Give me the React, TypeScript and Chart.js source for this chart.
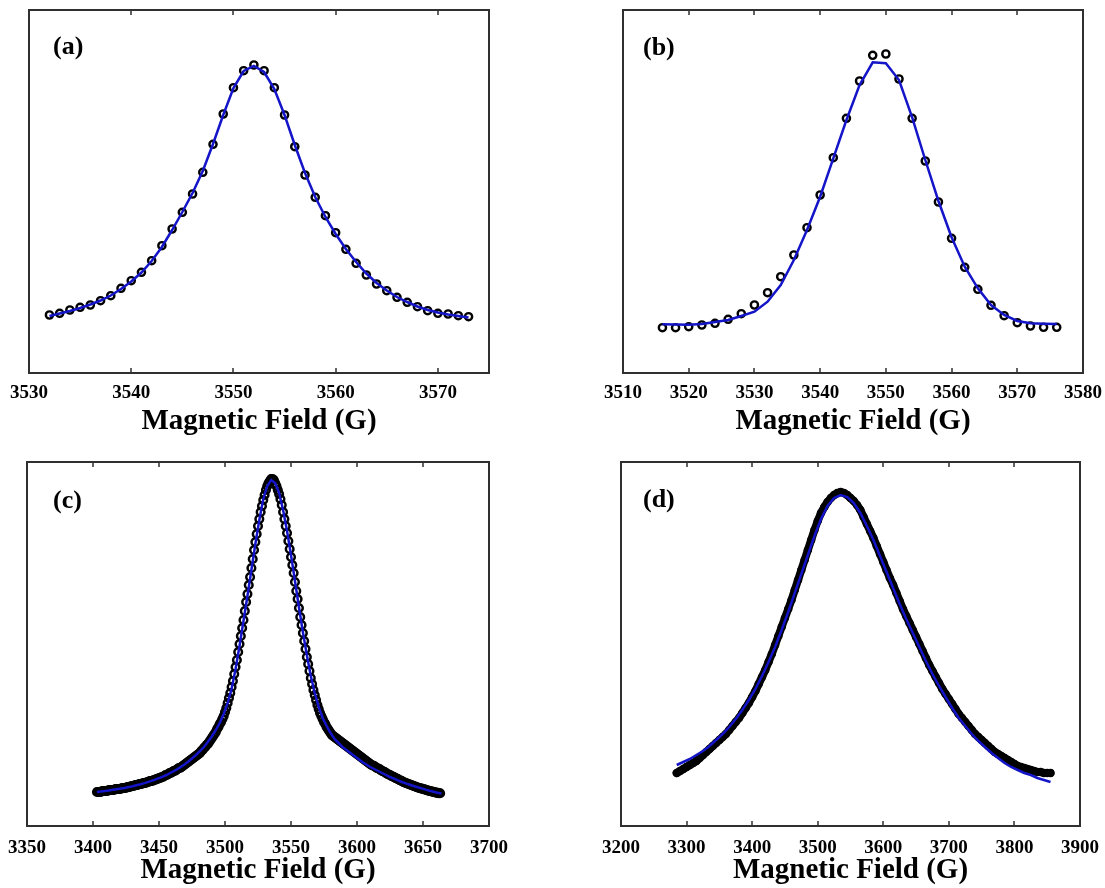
import React, { useEffect, useRef } from 'react';
import { Chart, registerables } from 'chart.js';

Chart.register(...registerables);

const SERIF = '"Liberation Serif", "Times New Roman", Times, serif';
const BLUE = '#1414c8';
const AXIS = '#303030';
const AXIS_TITLE = 'Magnetic Field (G)';

// ---------- Panel (a) ----------
const ticksA = [3530, 3540, 3550, 3560, 3570];
const fieldA = [
  3532, 3533, 3534, 3535, 3536, 3537, 3538, 3539, 3540, 3541,
  3542, 3543, 3544, 3545, 3546, 3547, 3548, 3549, 3550, 3551,
  3552, 3553, 3554, 3555, 3556, 3557, 3558, 3559, 3560, 3561,
  3562, 3563, 3564, 3565, 3566, 3567, 3568, 3569, 3570, 3571,
  3572, 3573,
];
const signalA = [
  58, 59.7, 63, 65.7, 68, 72.3, 77.3, 84.7, 92.3, 100.7,
  112.3, 127.3, 144, 160.7, 179, 200.7, 228.7, 259, 285.3, 302.3,
  308, 302.3, 285.3, 258, 226.3, 198, 175.7, 157.3, 140.3, 123.7,
  109.7, 98, 89, 82.3, 75.7, 70.7, 66.3, 62.3, 59.7, 59,
  57.3, 56.3,
];
const fitA = [
  57, 59.5, 62, 65, 68.5, 72.5, 77.5, 84, 91.5, 100.5,
  112, 126, 143, 161, 180, 202, 229, 258, 285, 302,
  307, 301, 284, 258, 228, 200, 176, 156, 139, 124,
  111, 99.5, 90, 82.5, 76, 71, 66.5, 63, 60.5, 58.5,
  57, 55.5,
];

// ---------- Panel (b) ----------
const ticksB = [3510, 3520, 3530, 3540, 3550, 3560, 3570, 3580];
const fieldB = [
  3516, 3518, 3520, 3522, 3524, 3526, 3528, 3530, 3532, 3534,
  3536, 3538, 3540, 3542, 3544, 3546, 3548, 3550, 3552, 3554,
  3556, 3558, 3560, 3562, 3564, 3566, 3568, 3570, 3572, 3574,
  3576,
];
const signalB = [
  45.3, 45.3, 46.3, 48, 49.7, 53.7, 59.3, 68, 80.3, 96.3,
  118, 145.3, 178, 215.3, 254.7, 292, 317.7, 319, 294, 254.7,
  212, 171, 134.7, 105.7, 83.7, 67.7, 57.3, 50.3, 47, 45.7,
  45.7,
];
const fitB = [
  48.7, 48.5, 48.3, 49, 51, 53, 57, 61.3, 71.3, 88,
  113, 143, 176.3, 214.7, 253, 288, 310.7, 309.7, 293, 255.7,
  213, 172, 135.7, 106.3, 84.7, 68, 58, 52, 49.7, 49.3,
  49,
];

// ---------- Panel (c) ----------
const ticksC = [3350, 3400, 3450, 3500, 3550, 3600, 3650, 3700];
const fieldC = [
  3403, 3404, 3405, 3406, 3407, 3408, 3409, 3410, 3411, 3412,
  3413, 3414, 3415, 3416, 3417, 3418, 3419, 3420, 3421, 3422,
  3423, 3424, 3425, 3426, 3427, 3428, 3429, 3430, 3431, 3432,
  3433, 3434, 3435, 3436, 3437, 3438, 3439, 3440, 3441, 3442,
  3443, 3444, 3445, 3446, 3447, 3448, 3449, 3450, 3451, 3452,
  3453, 3454, 3455, 3456, 3457, 3458, 3459, 3460, 3461, 3462,
  3463, 3464, 3465, 3466, 3467, 3468, 3469, 3470, 3471, 3472,
  3473, 3474, 3475, 3476, 3477, 3478, 3479, 3480, 3481, 3482,
  3483, 3484, 3485, 3486, 3487, 3488, 3489, 3490, 3491, 3492,
  3493, 3494, 3495, 3496, 3497, 3498, 3499, 3500, 3501, 3502,
  3503, 3504, 3505, 3506, 3507, 3508, 3509, 3510, 3511, 3512,
  3513, 3514, 3515, 3516, 3517, 3518, 3519, 3520, 3521, 3522,
  3523, 3524, 3525, 3526, 3527, 3528, 3529, 3530, 3531, 3532,
  3533, 3534, 3535, 3536, 3537, 3538, 3539, 3540, 3541, 3542,
  3543, 3544, 3545, 3546, 3547, 3548, 3549, 3550, 3551, 3552,
  3553, 3554, 3555, 3556, 3557, 3558, 3559, 3560, 3561, 3562,
  3563, 3564, 3565, 3566, 3567, 3568, 3569, 3570, 3571, 3572,
  3573, 3574, 3575, 3576, 3577, 3578, 3579, 3580, 3581, 3582,
  3583, 3584, 3585, 3586, 3587, 3588, 3589, 3590, 3591, 3592,
  3593, 3594, 3595, 3596, 3597, 3598, 3599, 3600, 3601, 3602,
  3603, 3604, 3605, 3606, 3607, 3608, 3609, 3610, 3611, 3612,
  3613, 3614, 3615, 3616, 3617, 3618, 3619, 3620, 3621, 3622,
  3623, 3624, 3625, 3626, 3627, 3628, 3629, 3630, 3631, 3632,
  3633, 3634, 3635, 3636, 3637, 3638, 3639, 3640, 3641, 3642,
  3643, 3644, 3645, 3646, 3647, 3648, 3649, 3650, 3651, 3652,
  3653, 3654, 3655, 3656, 3657, 3658, 3659, 3660, 3661, 3662,
  3663,
];
const signalC = [
  34, 34, 34, 34, 35, 35, 35, 35, 35, 36,
  36, 36, 36, 36, 37, 37, 37, 37, 37, 38,
  38, 38, 38, 39, 39, 39, 40, 40, 40, 41,
  41, 41, 42, 42, 42, 43, 43, 43, 44, 44,
  45, 45, 45, 46, 46, 47, 47, 48, 48, 49,
  49, 50, 51, 51, 52, 53, 53, 54, 55, 55,
  56, 57, 58, 58, 59, 60, 61, 62, 63, 64,
  65, 66, 67, 68, 69, 70, 71, 72, 73, 75,
  76, 78, 79, 81, 82, 84, 86, 88, 90, 92,
  94, 97, 99, 102, 104, 107, 110, 114, 118, 123,
  128, 133, 139, 145, 152, 159, 166, 174, 182, 190,
  198, 206, 215, 224, 232, 241, 249, 258, 267, 276,
  284, 292, 300, 307, 314, 320, 326, 331, 336, 340,
  343, 345, 347, 347, 346, 343, 340, 336, 332, 327,
  321, 314, 307, 300, 293, 285, 277, 269, 261, 253,
  244, 235, 227, 218, 209, 201, 193, 185, 177, 169,
  162, 155, 148, 142, 136, 131, 126, 121, 117, 113,
  110, 107, 104, 102, 99, 97, 95, 93, 91, 90,
  89, 88, 87, 86, 85, 84, 83, 82, 81, 80,
  79, 78, 77, 76, 75, 74, 73, 72, 71, 70,
  69, 68, 67, 66, 65, 64, 63, 62, 61, 60.5,
  60, 59, 58, 57.5, 57, 56, 55, 54.5, 54, 53,
  52, 51.5, 51, 50, 49.5, 49, 48, 47.5, 47, 46,
  45.5, 45, 44, 43.5, 43, 42.5, 42, 41.5, 41, 40.5,
  40, 39.5, 39, 38.5, 38, 37.8, 37.4, 37, 36.6, 36.2,
  35.8, 35.4, 35, 34.7, 34.4, 34, 33.7, 33.4, 33.1, 32.9,
  32.7,
];
const fitFieldC = [
  3403, 3406, 3409, 3412, 3415, 3418, 3421, 3424, 3427, 3430,
  3433, 3436, 3439, 3442, 3445, 3448, 3451, 3454, 3457, 3460,
  3463, 3466, 3469, 3472, 3475, 3478, 3481, 3484, 3487, 3490,
  3493, 3496, 3499, 3502, 3505, 3508, 3511, 3514, 3517, 3520,
  3523, 3526, 3529, 3532, 3535, 3538, 3541, 3544, 3547, 3550,
  3553, 3556, 3559, 3562, 3565, 3568, 3571, 3574, 3577, 3580,
  3583, 3586, 3589, 3592, 3595, 3598, 3601, 3604, 3607, 3610,
  3613, 3616, 3619, 3622, 3625, 3628, 3631, 3634, 3637, 3640,
  3643, 3646, 3649, 3652, 3655, 3658, 3661, 3664,
];
const fitC = [
  34, 34.5, 35, 35.6, 36.2, 36.8, 37.4, 38.1, 38.9, 39.8,
  40.8, 41.8, 42.9, 44.1, 45.4, 46.8, 48.3, 50, 51.9, 54,
  56.2, 58.6, 61.3, 64.3, 67.5, 71, 74.8, 79, 84, 89.5,
  96, 103, 112, 123, 137, 157, 180, 205, 230, 256,
  282, 306, 327, 340, 346, 343, 333, 316, 295, 271,
  245, 219, 194, 171, 150, 133, 119, 108, 100, 93,
  87, 83, 79, 76, 73, 70, 67, 64, 61.5, 59,
  57, 55, 53, 51, 49, 47.3, 45.7, 44, 42.6, 41.3,
  40, 38.8, 37.6, 36.4, 35.3, 34.3, 33.3, 32.5,
];

// ---------- Panel (d) ----------
const ticksD = [3200, 3300, 3400, 3500, 3600, 3700, 3800, 3900];
const fieldD = [
  3285, 3290, 3295, 3300, 3305, 3310, 3315, 3320, 3325, 3330,
  3335, 3340, 3345, 3350, 3355, 3360, 3365, 3370, 3375, 3380,
  3385, 3390, 3395, 3400, 3405, 3410, 3415, 3420, 3425, 3430,
  3435, 3440, 3445, 3450, 3455, 3460, 3465, 3470, 3475, 3480,
  3485, 3490, 3495, 3500, 3505, 3510, 3515, 3520, 3525, 3530,
  3535, 3540, 3545, 3550, 3555, 3560, 3565, 3570, 3575, 3580,
  3585, 3590, 3595, 3600, 3605, 3610, 3615, 3620, 3625, 3630,
  3635, 3640, 3645, 3650, 3655, 3660, 3665, 3670, 3675, 3680,
  3685, 3690, 3695, 3700, 3705, 3710, 3715, 3720, 3725, 3730,
  3735, 3740, 3745, 3750, 3755, 3760, 3765, 3770, 3775, 3780,
  3785, 3790, 3795, 3800, 3805, 3810, 3815, 3820, 3825, 3830,
  3835, 3840, 3845, 3850, 3855,
];
const signalD = [
  53, 55, 57, 59, 61, 63, 65, 68, 71, 74,
  77, 80, 83, 86, 89, 92, 96, 100, 104, 108,
  113, 118, 123, 129, 135, 142, 149, 156, 164, 172,
  181, 190, 199, 208, 217, 226, 236, 246, 256, 266,
  276, 286, 296, 305, 313, 319, 324, 328, 331, 333,
  334, 333, 331, 328, 325, 321, 316, 309, 302, 295,
  288, 280, 272, 264, 256, 248, 241, 233, 225, 217,
  210, 203, 196, 189, 182, 175, 168, 161, 155, 149,
  143, 137, 132, 127, 122, 117, 112, 108, 104, 100,
  96, 92, 89, 86, 83, 80, 77, 74, 72, 70,
  68, 66, 64, 62, 60, 59, 58, 57, 56, 55,
  54, 54, 53, 53, 53,
];
const fitFieldD = [
  3285, 3295, 3305, 3315, 3325, 3335, 3345, 3355, 3365, 3375,
  3385, 3395, 3405, 3415, 3425, 3435, 3445, 3455, 3465, 3475,
  3485, 3495, 3505, 3515, 3525, 3535, 3545, 3555, 3565, 3575,
  3585, 3595, 3605, 3615, 3625, 3635, 3645, 3655, 3665, 3675,
  3685, 3695, 3705, 3715, 3725, 3735, 3745, 3755, 3765, 3775,
  3785, 3795, 3805, 3815, 3825, 3835, 3845, 3855,
];
const fitD = [
  61, 64, 67, 71, 75, 80, 86, 92, 99, 107,
  116, 126, 137, 150, 164, 179, 196, 214, 233, 252,
  271, 290, 307, 320, 328, 331, 329, 323, 313, 300,
  286, 270, 254, 238, 222, 207, 193, 179, 165, 152,
  140, 129, 118, 108, 100, 92, 85, 79, 73, 68,
  63, 59, 56, 53, 51, 48, 46, 44,
];

type PanelSpec = {
  label: string;
  left: number;
  top: number;
  w: number;
  h: number;
  pad: { left: number; top: number; right: number };
  axisH: number;
  tickGap: number;
  titlePad: number;
  xMin: number;
  xMax: number;
  yMax: number;
  ticks: number[];
  dataX: number[];
  dataY: number[];
  fitX: number[];
  fitY: number[];
  r: number;
  bw: number;
  dataLine: number;
  fitWidth: number;
  labelDx: number;
  labelDy: number;
};

const panelDecor = {
  id: 'panelDecor',
  afterDraw(chart: any, _args: any, opts: any) {
    const { ctx, chartArea } = chart;
    const xs = chart.scales.x;
    ctx.save();
    ctx.strokeStyle = AXIS;
    ctx.lineWidth = 1.5;
    ctx.beginPath();
    xs.ticks.forEach((t: any) => {
      if (t.value <= xs.min || t.value >= xs.max) return;
      const px = Math.round(xs.getPixelForValue(t.value));
      ctx.moveTo(px, chartArea.bottom);
      ctx.lineTo(px, chartArea.bottom - 5);
      ctx.moveTo(px, chartArea.top);
      ctx.lineTo(px, chartArea.top + 5);
    });
    ctx.stroke();
    ctx.font = `bold 26px ${SERIF}`;
    ctx.fillStyle = '#000';
    ctx.textAlign = 'left';
    ctx.textBaseline = 'middle';
    ctx.fillText(opts.text, chartArea.left + opts.dx, chartArea.top + opts.dy);
    ctx.restore();
  },
};

const panels: PanelSpec[] = [
  {
    label: '(a)', left: 0, top: 0, w: 552, h: 444,
    pad: { left: 29, top: 10, right: 63 }, axisH: 71, tickGap: 9, titlePad: 5,
    xMin: 3530, xMax: 3575, yMax: 363, ticks: ticksA,
    dataX: fieldA, dataY: signalA, fitX: fieldA, fitY: fitA,
    r: 3.6, bw: 2.4, dataLine: 0, fitWidth: 2.5, labelDx: 24, labelDy: 37,
  },
  {
    label: '(b)', left: 552, top: 0, w: 553, h: 444,
    pad: { left: 71, top: 10, right: 22 }, axisH: 71, tickGap: 9, titlePad: 5,
    xMin: 3510, xMax: 3580, yMax: 363, ticks: ticksB,
    dataX: fieldB, dataY: signalB, fitX: fieldB, fitY: fitB,
    r: 3.6, bw: 2.4, dataLine: 0, fitWidth: 2.5, labelDx: 20, labelDy: 38,
  },
  {
    label: '(c)', left: 0, top: 444, w: 552, h: 444,
    pad: { left: 27, top: 18, right: 63 }, axisH: 62, tickGap: 11, titlePad: 0,
    xMin: 3350, xMax: 3700, yMax: 364, ticks: ticksC,
    dataX: fieldC, dataY: signalC, fitX: fitFieldC, fitY: fitC,
    r: 3.8, bw: 2.5, dataLine: 0, fitWidth: 2.5, labelDx: 26, labelDy: 39,
  },
  {
    label: '(d)', left: 552, top: 444, w: 553, h: 444,
    pad: { left: 69, top: 18, right: 25 }, axisH: 62, tickGap: 11, titlePad: 0,
    xMin: 3200, xMax: 3900, yMax: 364, ticks: ticksD,
    dataX: fieldD, dataY: signalD, fitX: fitFieldD, fitY: fitD,
    r: 3, bw: 2.5, dataLine: 8, fitWidth: 2.5, labelDx: 22, labelDy: 38,
  },
];

function makeConfig(p: PanelSpec): any {
  const frame = { display: true, color: AXIS, width: 2 };
  return {
    type: 'scatter',
    data: {
      datasets: [
        {
          label: 'Fit',
          data: p.fitX.map((x, i) => ({ x, y: p.fitY[i] })),
          showLine: true,
          borderColor: BLUE,
          borderWidth: p.fitWidth,
          pointRadius: 0,
          fill: false,
          order: 0,
        },
        {
          label: 'Data',
          data: p.dataX.map((x, i) => ({ x, y: p.dataY[i] })),
          showLine: p.dataLine > 0,
          borderColor: '#000',
          borderWidth: p.dataLine,
          borderCapStyle: 'round',
          borderJoinStyle: 'round',
          pointStyle: 'circle',
          pointRadius: p.r,
          pointBorderWidth: p.bw,
          pointBorderColor: '#000',
          pointBackgroundColor: 'rgba(0,0,0,0)',
          order: 1,
        },
      ],
    },
    options: {
      responsive: false,
      animation: false,
      events: [],
      layout: {
        autoPadding: false,
        padding: { left: p.pad.left, top: p.pad.top, right: p.pad.right, bottom: 0 },
      },
      plugins: {
        legend: { display: false },
        tooltip: { enabled: false },
        panelDecor: { text: p.label, dx: p.labelDx, dy: p.labelDy },
      },
      scales: {
        x: {
          type: 'linear', axis: 'x', position: 'bottom',
          min: p.xMin, max: p.xMax,
          grid: { display: false, drawTicks: true, tickLength: p.tickGap },
          border: frame,
          afterBuildTicks: (s: any) => { s.ticks = p.ticks.map((v) => ({ value: v })); },
          afterFit: (s: any) => { s.height = p.axisH; },
          ticks: {
            autoSkip: false, maxRotation: 0, minRotation: 0,
            padding: 0, color: '#000',
            font: { family: SERIF, size: 19, weight: 'bold' },
            callback: (v: any) => String(v),
          },
          title: {
            display: true, text: AXIS_TITLE, color: '#000',
            font: { family: SERIF, size: 29, weight: 'bold' },
            padding: { top: 0, bottom: p.titlePad },
          },
        },
        x2: {
          type: 'linear', axis: 'x', position: 'top',
          min: p.xMin, max: p.xMax,
          grid: { display: false, drawTicks: false }, ticks: { display: false },
          border: frame,
          afterFit: (s: any) => { s.height = 0; },
        },
        y: {
          type: 'linear', axis: 'y', position: 'left',
          min: 0, max: p.yMax,
          grid: { display: false, drawTicks: false }, ticks: { display: false },
          border: frame,
          afterFit: (s: any) => { s.width = 0; },
        },
        y2: {
          type: 'linear', axis: 'y', position: 'right',
          min: 0, max: p.yMax,
          grid: { display: false, drawTicks: false }, ticks: { display: false },
          border: frame,
          afterFit: (s: any) => { s.width = 0; },
        },
      },
    },
    plugins: [panelDecor],
  };
}

function Panel({ spec }: { spec: PanelSpec }) {
  const ref = useRef<HTMLCanvasElement>(null);
  useEffect(() => {
    if (!ref.current) return;
    const chart = new Chart(ref.current, makeConfig(spec));
    return () => chart.destroy();
  }, [spec]);
  return (
    <canvas
      ref={ref}
      width={spec.w}
      height={spec.h}
      style={{ position: 'absolute', left: spec.left, top: spec.top, width: spec.w, height: spec.h }}
    />
  );
}

export default function App() {
  return (
    <div style={{ position: 'fixed', left: 0, top: 0, width: 1105, height: 888, background: '#fff' }}>
      {panels.map((p) => (
        <Panel key={p.label} spec={p} />
      ))}
    </div>
  );
}
